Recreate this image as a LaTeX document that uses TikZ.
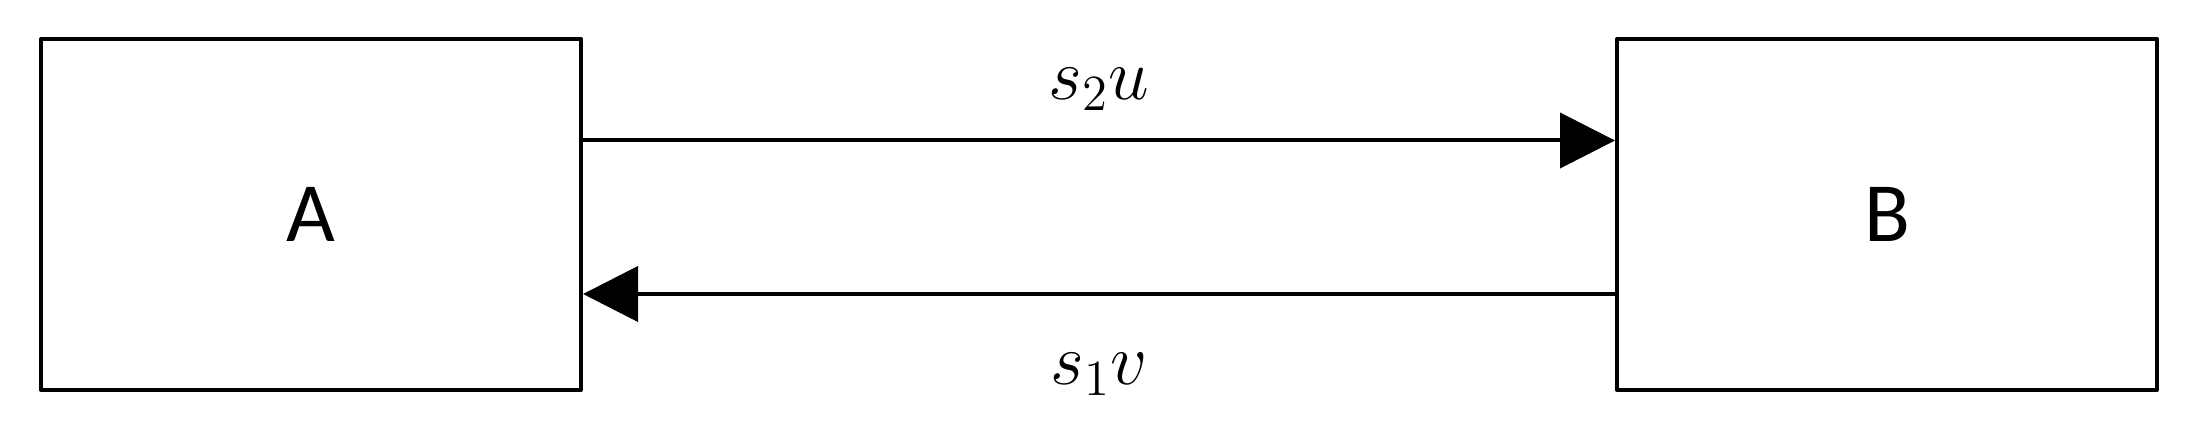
\documentclass[tikz,border=0pt]{standalone}
\usepackage{amsmath}
\usepackage{fontspec}
\setmainfont{Carlito}
\usetikzlibrary{arrows.meta}

\begin{document}
\begin{tikzpicture}[line width=0.04cm,
  blockbox/.style={draw, black, minimum width=5.40cm, minimum height=3.51cm, inner sep=0pt, line join=round, font=\fontsize{24}{28}\selectfont},
  flow/.style={-{Triangle[length=0.55cm,width=0.55cm]}},
  flowlabel/.style={anchor=base, inner sep=0pt, font=\fontsize{22}{26}\selectfont}]
\useasboundingbox (0,0) rectangle (21.92,4.36);
\node [blockbox] (A) at (3.11,2.215) {A};
\node [blockbox] (B) at (18.87,2.215) {B};
\draw [flow] ([yshift=0.74cm]A.east) -- node [flowlabel, yshift=0.41cm] {$s_2u$} ([yshift=0.74cm]B.west);
\draw [flow] ([yshift=-0.795cm]B.west) -- node [flowlabel, yshift=-0.91cm] {$s_1v$} ([yshift=-0.795cm]A.east);
\end{tikzpicture}
\end{document}
